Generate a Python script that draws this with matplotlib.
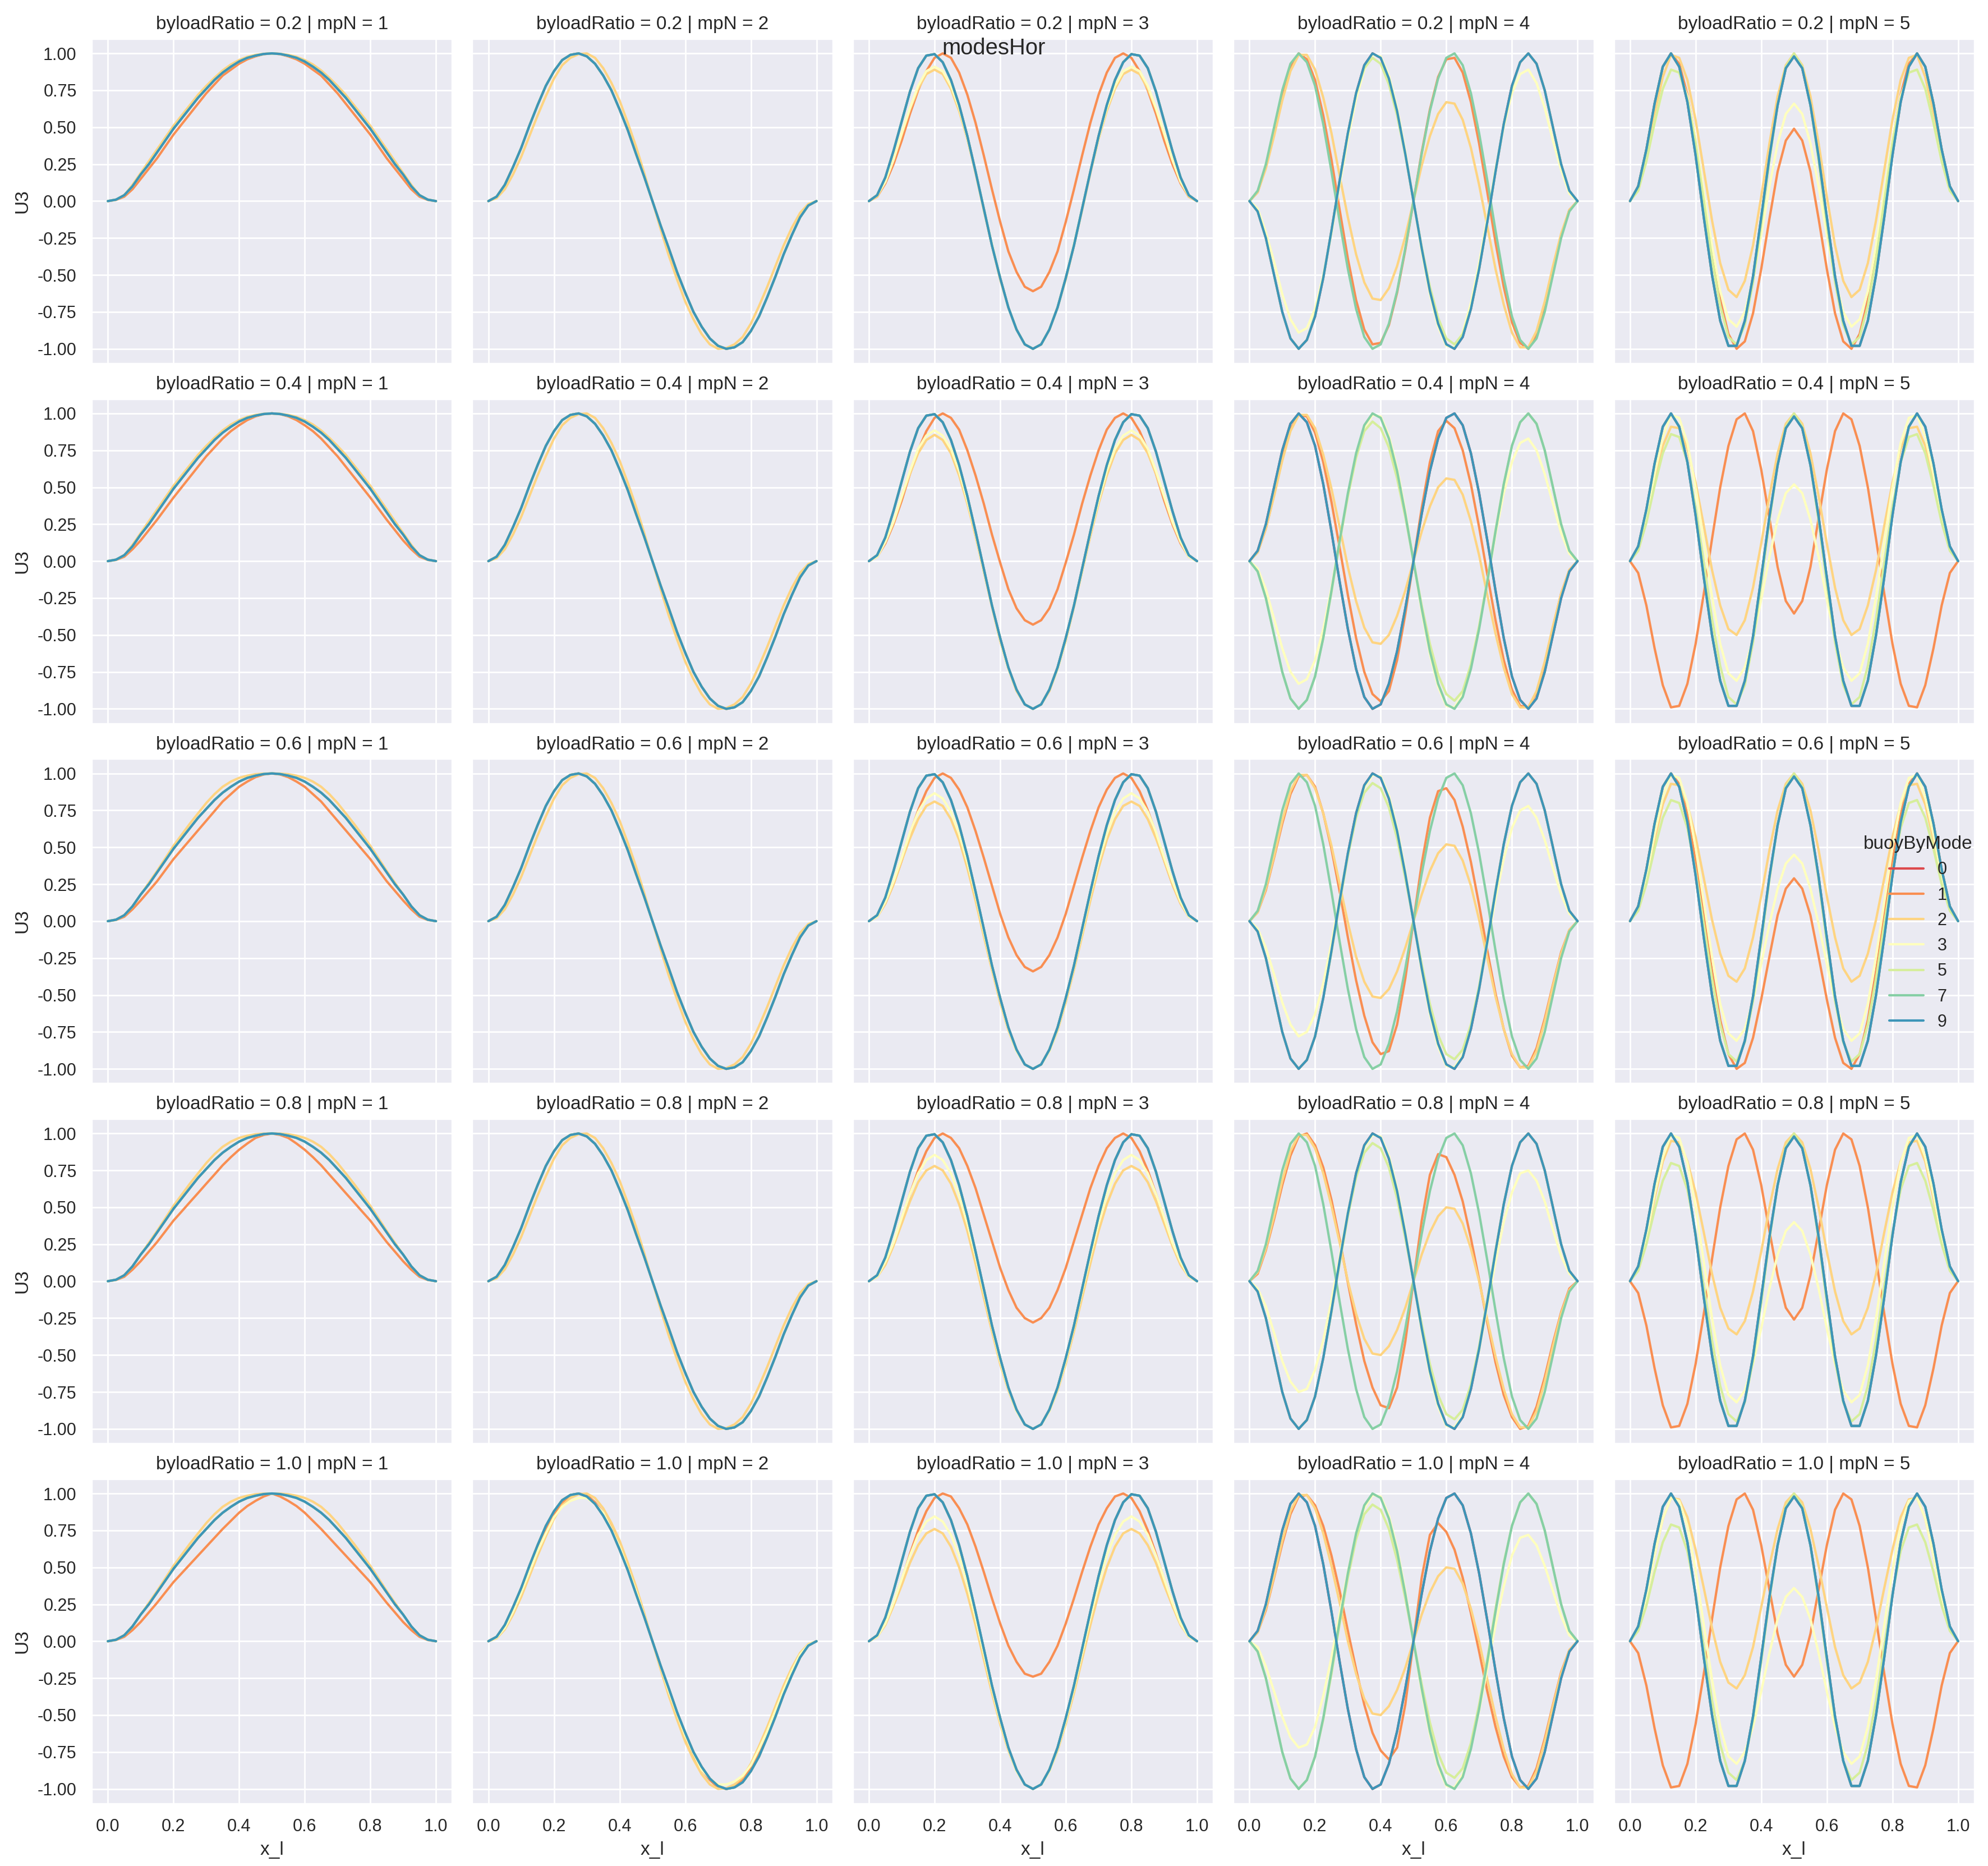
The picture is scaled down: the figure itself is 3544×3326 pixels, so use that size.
import matplotlib
matplotlib.use("Agg")
import matplotlib.pyplot as plt
import seaborn as sns
from matplotlib.lines import Line2D

# ---------------------------------------------------------------------------
# facets and hue levels
# ---------------------------------------------------------------------------
BYLOAD_RATIOS = [0.2, 0.4, 0.6, 0.8, 1.0]
MP_N = [1, 2, 3, 4, 5]
BUOY_BY_MODE = [0, 1, 2, 3, 5, 7, 9]

# sample positions along the pipe (x_l)
X41 = [0, .025, .05, .075, .1, .125, .15, .175, .2, .225, .25, .275, .3, .325, .35, .375, .4, .425, .45, .475,
       .5, .525, .55, .575, .6, .625, .65, .675, .7, .725, .75, .775, .8, .825, .85, .875, .9, .925, .95, .975, 1.0]

# ---------------------------------------------------------------------------
# mpN = 1
# ---------------------------------------------------------------------------
M1_BLUE = [0, .01, .04, .10, .18, .25, .33, .41, .49, .56, .63, .70, .76, .82, .87, .91, .945, .97, .985, .996,
           1, .996, .985, .97, .945, .91, .87, .82, .76, .70, .63, .56, .49, .41, .33, .25, .18, .10, .04, .01, 0]
M1_OR_R1 = [0, .008, .03, .08, .15, .22, .29, .37, .45, .52, .59, .66, .73, .79, .85, .89, .93, .96, .98, .995,
            1, .995, .98, .96, .93, .89, .85, .79, .73, .66, .59, .52, .45, .37, .29, .22, .15, .08, .03, .008, 0]
M1_OR_R2 = [0, .008, .03, .08, .14, .21, .28, .355, .43, .50, .57, .64, .71, .77, .83, .88, .92, .955, .98, .995,
            1, .995, .98, .955, .92, .88, .83, .77, .71, .64, .57, .50, .43, .355, .28, .21, .14, .08, .03, .008, 0]
M1_OR_R3 = [0, .008, .03, .08, .14, .205, .27, .345, .42, .485, .55, .615, .68, .745, .81, .86, .91, .945, .975, .993,
            1, .993, .975, .945, .91, .86, .81, .745, .68, .615, .55, .485, .42, .345, .27, .205, .14, .08, .03, .008, 0]
M1_OR_R4 = [0, .008, .03, .078, .135, .20, .265, .337, .41, .472, .535, .597, .66, .722, .785, .84, .89, .932, .97, .99,
            1, .99, .97, .932, .89, .84, .785, .722, .66, .597, .535, .472, .41, .337, .265, .20, .135, .078, .03, .008, 0]
M1_OR_R5 = [0, .008, .03, .075, .13, .195, .26, .33, .40, .46, .52, .58, .64, .70, .76, .815, .87, .915, .95, .98,
            1, .98, .95, .915, .87, .815, .76, .70, .64, .58, .52, .46, .40, .33, .26, .195, .13, .075, .03, .008, 0]
M1_LO_A = [0, .01, .04, .11, .19, .27, .35, .43, .51, .58, .65, .72, .78, .835, .885, .925, .955, .977, .99, .997,
           1, .997, .99, .977, .955, .925, .885, .835, .78, .72, .65, .58, .51, .43, .35, .27, .19, .11, .04, .01, 0]
M1_LO_B = [0, .01, .04, .10, .18, .26, .34, .425, .51, .585, .66, .73, .80, .86, .91, .945, .97, .985, .995, .999,
           1, .999, .995, .985, .97, .945, .91, .86, .80, .73, .66, .585, .51, .425, .34, .26, .18, .10, .04, .01, 0]

# ---------------------------------------------------------------------------
# mpN = 2
# ---------------------------------------------------------------------------
M2_BLUE = [0, .03, .11, .23, .36, .51, .65, .78, .88, .955, .99, 1, .98, .93, .85, .75, .62, .48, .32, .165,
           0, -.165, -.32, -.48, -.62, -.75, -.85, -.93, -.98, -1, -.99, -.955, -.88, -.78, -.65, -.51, -.36, -.23, -.11, -.03, 0]
M2_LO = [0, .02, .08, .18, .30, .44, .58, .71, .83, .92, .97, .995, 1, .97, .90, .80, .68, .53, .37, .19,
         0, -.19, -.37, -.53, -.68, -.80, -.90, -.97, -1, -.995, -.97, -.92, -.83, -.71, -.58, -.44, -.30, -.18, -.08, -.02, 0]
M2_OR5 = [0, .025, .10, .21, .34, .49, .63, .76, .86, .94, .98, 1, .99, .94, .87, .77, .65, .50, .34, .17,
          0, -.17, -.34, -.50, -.65, -.77, -.87, -.94, -.99, -1, -.98, -.94, -.86, -.76, -.63, -.49, -.34, -.21, -.10, -.025, 0]
M2_Y5 = [0, .025, .09, .20, .33, .47, .61, .73, .84, .91, .95, .97, .97, .93, .87, .76, .64, .49, .34, .17,
         0, -.17, -.34, -.49, -.64, -.76, -.87, -.93, -.97, -.97, -.95, -.91, -.84, -.73, -.61, -.47, -.33, -.20, -.09, -.025, 0]

# ---------------------------------------------------------------------------
# mpN = 3
# ---------------------------------------------------------------------------
M3_BLUE = [0, .04, .16, .34, .54, .74, .90, .985, .995, .94, .82, .65, .44, .20, -.05, -.30, -.52, -.72, -.87, -.97,
           -1, -.97, -.87, -.72, -.52, -.30, -.05, .20, .44, .65, .82, .94, .995, .985, .90, .74, .54, .34, .16, .04, 0]
M3_OR_R1 = [0, .03, .12, .25, .41, .59, .75, .88, .97, 1, .97, .87, .72, .53, .31, .08, -.14, -.34, -.48, -.58,
            -.61, -.58, -.48, -.34, -.14, .08, .31, .53, .72, .87, .97, 1, .97, .88, .75, .59, .41, .25, .12, .03, 0]
M3_OR_R2 = [0, .03, .12, .25, .41, .59, .75, .88, .97, 1, .97, .89, .75, .58, .39, .18, -.01, -.19, -.32, -.40,
            -.43, -.40, -.32, -.19, -.01, .18, .39, .58, .75, .89, .97, 1, .97, .88, .75, .59, .41, .25, .12, .03, 0]
M3_OR_R3 = [0, .03, .12, .25, .41, .59, .75, .88, .97, 1, .97, .89, .77, .61, .43, .24, .05, -.11, -.23, -.31,
            -.34, -.31, -.23, -.11, .05, .24, .43, .61, .77, .89, .97, 1, .97, .88, .75, .59, .41, .25, .12, .03, 0]
M3_OR_R4 = [0, .03, .12, .25, .41, .59, .75, .88, .97, 1, .97, .90, .78, .63, .45, .27, .09, -.06, -.18, -.25,
            -.28, -.25, -.18, -.06, .09, .27, .45, .63, .78, .90, .97, 1, .97, .88, .75, .59, .41, .25, .12, .03, 0]
M3_OR_R5 = [0, .03, .12, .25, .41, .59, .75, .88, .97, 1, .98, .90, .79, .64, .47, .29, .12, -.03, -.14, -.22,
            -.24, -.22, -.14, -.03, .12, .29, .47, .64, .79, .90, .98, 1, .97, .88, .75, .59, .41, .25, .12, .03, 0]
M3_LO_R1 = [0, .03, .13, .28, .45, .62, .76, .86, .89, .86, .76, .61, .42, .19, -.06, -.30, -.53, -.72, -.87, -.97,
            -1, -.97, -.87, -.72, -.53, -.30, -.06, .19, .42, .61, .76, .86, .89, .86, .76, .62, .45, .28, .13, .03, 0]
M3_LO_R2 = [0, .03, .13, .26, .43, .59, .73, .82, .855, .82, .73, .58, .39, .17, -.07, -.31, -.54, -.73, -.88, -.97,
            -1, -.97, -.88, -.73, -.54, -.31, -.07, .17, .39, .58, .73, .82, .855, .82, .73, .59, .43, .26, .13, .03, 0]
M3_LO_R3 = [0, .03, .12, .25, .41, .56, .69, .78, .81, .78, .69, .55, .36, .14, -.10, -.33, -.55, -.74, -.88, -.97,
            -1, -.97, -.88, -.74, -.55, -.33, -.10, .14, .36, .55, .69, .78, .81, .78, .69, .56, .41, .25, .12, .03, 0]
M3_LO_R4 = [0, .03, .11, .24, .39, .54, .67, .75, .78, .75, .66, .52, .34, .12, -.11, -.34, -.56, -.74, -.88, -.97,
            -1, -.97, -.88, -.74, -.56, -.34, -.11, .12, .34, .52, .66, .75, .78, .75, .67, .54, .39, .24, .11, .03, 0]
M3_LO_R5 = [0, .03, .11, .24, .38, .53, .65, .73, .76, .73, .64, .50, .32, .11, -.12, -.35, -.56, -.74, -.88, -.97,
            -1, -.97, -.88, -.74, -.56, -.35, -.12, .11, .32, .50, .64, .73, .76, .73, .65, .53, .38, .24, .11, .03, 0]
M3_Y_R1 = [0, .04, .13, .28, .46, .63, .78, .88, .91, .88, .78, .63, .43, .20, -.05, -.29, -.52, -.72, -.87, -.97,
           -1, -.97, -.87, -.72, -.52, -.29, -.05, .20, .43, .63, .78, .88, .91, .88, .78, .63, .46, .28, .13, .04, 0]
M3_Y_R2 = [0, .03, .13, .27, .44, .61, .76, .85, .885, .85, .76, .61, .41, .19, -.06, -.30, -.53, -.73, -.87, -.97,
           -1, -.97, -.87, -.73, -.53, -.30, -.06, .19, .41, .61, .76, .85, .885, .85, .76, .61, .44, .27, .13, .03, 0]
M3_Y_R3 = [0, .03, .13, .27, .43, .60, .74, .83, .866, .83, .74, .59, .40, .18, -.07, -.31, -.53, -.73, -.88, -.97,
           -1, -.97, -.88, -.73, -.53, -.31, -.07, .18, .40, .59, .74, .83, .866, .83, .74, .60, .43, .27, .13, .03, 0]
M3_Y_R5 = [0, .03, .12, .26, .42, .58, .72, .81, .845, .81, .72, .58, .38, .16, -.08, -.32, -.54, -.73, -.88, -.97,
           -1, -.97, -.88, -.73, -.54, -.32, -.08, .16, .38, .58, .72, .81, .845, .81, .72, .58, .42, .26, .12, .03, 0]

# ---------------------------------------------------------------------------
# mpN = 4
# ---------------------------------------------------------------------------
M4_POS = [0, .07, .25, .50, .75, .93, 1, .94, .78, .52, .20, -.14, -.46, -.73, -.92, -1, -.97, -.83, -.61, -.32,
          0, .32, .61, .83, .97, 1, .92, .73, .46, .14, -.20, -.52, -.78, -.94, -1, -.93, -.75, -.50, -.25, -.07, 0]
M4_NEG = [0, -.07, -.25, -.50, -.75, -.93, -1, -.94, -.78, -.52, -.20, .14, .46, .73, .92, 1, .97, .83, .61, .32,
          0, -.32, -.61, -.83, -.97, -1, -.92, -.73, -.46, -.14, .20, .52, .78, .94, 1, .93, .75, .50, .25, .07, 0]
M4_OR_R1 = [0, .06, .24, .48, .72, .91, 1, .96, .82, .58, .28, -.06, -.39, -.67, -.87, -.97, -.96, -.84, -.62, -.33,
            0, .33, .62, .84, .96, .97, .87, .67, .39, .06, -.28, -.58, -.82, -.96, -1, -.91, -.72, -.48, -.24, -.06, 0]
M4_OR_R2 = [0, .06, .22, .45, .69, .89, .99, .98, .87, .67, .40, .09, -.23, -.52, -.75, -.90, -.95, -.88, -.67, -.36,
            0, .36, .67, .88, .95, .90, .75, .52, .23, -.09, -.40, -.67, -.87, -.98, -.99, -.89, -.69, -.45, -.22, -.06, 0]
M4_OR_R3 = [0, .06, .21, .43, .66, .86, .98, .99, .91, .73, .49, .20, -.11, -.40, -.64, -.82, -.90, -.88, -.70, -.39,
            0, .39, .70, .88, .90, .82, .64, .40, .11, -.20, -.49, -.73, -.91, -.99, -.98, -.86, -.66, -.43, -.21, -.06, 0]
M4_OR_R4 = [0, .05, .21, .42, .65, .85, .98, 1, .92, .77, .55, .28, -.01, -.29, -.54, -.72, -.84, -.86, -.72, -.41,
            0, .41, .72, .86, .84, .72, .54, .29, .01, -.28, -.55, -.77, -.92, -1, -.98, -.85, -.65, -.42, -.21, -.05, 0]
M4_OR_R5 = [0, .06, .21, .43, .66, .86, .98, .99, .92, .78, .58, .34, .07, -.19, -.43, -.62, -.74, -.80, -.72, -.43,
            0, .43, .72, .80, .74, .62, .43, .19, -.07, -.34, -.58, -.78, -.92, -.99, -.98, -.86, -.66, -.43, -.21, -.06, 0]
M4_LO_R1 = [0, .06, .22, .44, .68, .88, .99, .99, .89, .70, .46, .17, -.11, -.36, -.55, -.66, -.67, -.59, -.44, -.24,
            0, .24, .44, .59, .67, .66, .55, .36, .11, -.17, -.46, -.70, -.89, -.99, -.99, -.88, -.68, -.44, -.22, -.06, 0]
M4_LO_R2 = [0, .06, .22, .44, .68, .88, .99, .99, .90, .72, .49, .23, -.04, -.27, -.45, -.55, -.56, -.50, -.37, -.20,
            0, .20, .37, .50, .56, .55, .45, .27, .04, -.23, -.49, -.72, -.90, -.99, -.99, -.88, -.68, -.44, -.22, -.06, 0]
M4_LO_R3 = [0, .06, .22, .44, .68, .88, .99, .99, .90, .73, .51, .25, -.01, -.24, -.41, -.51, -.52, -.46, -.34, -.18,
            0, .18, .34, .46, .52, .51, .41, .24, .01, -.25, -.51, -.73, -.90, -.99, -.99, -.88, -.68, -.44, -.22, -.06, 0]
M4_LO_R4 = [0, .06, .22, .44, .68, .88, .99, .99, .90, .73, .51, .26, 0, -.22, -.39, -.49, -.50, -.44, -.33, -.18,
            0, .18, .33, .44, .50, .49, .39, .22, 0, -.26, -.51, -.73, -.90, -.99, -.99, -.88, -.68, -.44, -.22, -.06, 0]
M4_Y_R1 = [0, -.05, -.21, -.41, -.63, -.80, -.89, -.86, -.73, -.50, -.22, .11, .42, .69, .89, .99, .98, .85, .63, .34,
           0, -.34, -.63, -.85, -.98, -.99, -.89, -.69, -.42, -.11, .22, .50, .73, .86, .89, .80, .63, .41, .21, .05, 0]
M4_Y_R2 = [0, -.05, -.19, -.39, -.59, -.75, -.83, -.80, -.67, -.46, -.18, .14, .44, .70, .90, .99, .98, .85, .63, .34,
           0, -.34, -.63, -.85, -.98, -.99, -.90, -.70, -.44, -.14, .18, .46, .67, .80, .83, .75, .59, .39, .19, .05, 0]
M4_Y_R3 = [0, -.05, -.18, -.36, -.55, -.70, -.78, -.75, -.63, -.42, -.15, .16, .46, .71, .90, .99, .98, .85, .63, .34,
           0, -.34, -.63, -.85, -.98, -.99, -.90, -.71, -.46, -.16, .15, .42, .63, .75, .78, .70, .55, .36, .18, .05, 0]
M4_Y_R4 = [0, -.05, -.17, -.35, -.54, -.68, -.75, -.73, -.60, -.40, -.13, .17, .47, .72, .90, .99, .98, .85, .63, .34,
           0, -.34, -.63, -.85, -.98, -.99, -.90, -.72, -.47, -.17, .13, .40, .60, .73, .75, .68, .54, .35, .17, .05, 0]
M4_Y_R5 = [0, -.04, -.17, -.34, -.51, -.65, -.72, -.70, -.58, -.37, -.11, .19, .47, .72, .90, .99, .98, .85, .63, .34,
           0, -.34, -.63, -.85, -.98, -.99, -.90, -.72, -.47, -.19, .11, .37, .58, .70, .72, .65, .51, .34, .17, .04, 0]
M4_G_R1 = [0, -.07, -.25, -.50, -.75, -.93, -1, -.94, -.77, -.52, -.20, .14, .46, .73, .90, .97, .93, .79, .58, .31,
           0, -.31, -.58, -.79, -.93, -.97, -.90, -.73, -.46, -.14, .20, .52, .77, .94, 1, .93, .75, .50, .25, .07, 0]
M4_G_R2 = [0, -.07, -.25, -.50, -.75, -.93, -1, -.94, -.78, -.52, -.21, .13, .44, .70, .88, .945, .90, .77, .56, .30,
           0, -.30, -.56, -.77, -.90, -.945, -.88, -.70, -.44, -.13, .21, .52, .78, .94, 1, .93, .75, .50, .25, .07, 0]
M4_G_R3 = [0, -.07, -.25, -.50, -.75, -.93, -1, -.94, -.78, -.52, -.21, .12, .44, .70, .87, .935, .90, .77, .56, .29,
           0, -.29, -.56, -.77, -.90, -.935, -.87, -.70, -.44, -.12, .21, .52, .78, .94, 1, .93, .75, .50, .25, .07, 0]
M4_G_R5 = [0, -.07, -.25, -.50, -.75, -.93, -1, -.94, -.78, -.53, -.22, .12, .43, .69, .86, .925, .89, .76, .55, .29,
           0, -.29, -.55, -.76, -.89, -.925, -.86, -.69, -.43, -.12, .22, .53, .78, .94, 1, .93, .75, .50, .25, .07, 0]

# ---------------------------------------------------------------------------
# mpN = 5
# ---------------------------------------------------------------------------
M5_BLUE = [0, .10, .35, .66, .91, 1, .91, .67, .31, -.11, -.50, -.81, -.98, -.98, -.81, -.51, -.11, .30, .65, .90,
           .98, .90, .65, .30, -.11, -.51, -.81, -.98, -.98, -.81, -.50, -.11, .31, .67, .91, 1, .91, .66, .35, .10, 0]
M5_OR_R1 = [0, .10, .35, .66, .91, 1, .93, .72, .41, .04, -.34, -.67, -.90, -1, -.95, -.76, -.46, -.12, .20, .41,
            .49, .41, .20, -.12, -.46, -.76, -.95, -1, -.90, -.67, -.34, .04, .41, .72, .93, 1, .91, .66, .35, .10, 0]
M5_OR_R2 = [0, -.08, -.30, -.59, -.84, -.99, -.98, -.83, -.56, -.22, .15, .50, .78, .96, 1, .88, .62, .29, -.04, -.27,
            -.355, -.27, -.04, .29, .62, .88, 1, .96, .78, .50, .15, -.22, -.56, -.83, -.98, -.99, -.84, -.59, -.30, -.08, 0]
M5_OR_R3 = [0, .10, .35, .66, .91, 1, .93, .72, .41, .04, -.34, -.67, -.90, -1, -.96, -.79, -.53, -.24, .04, .22,
            .29, .22, .04, -.24, -.53, -.79, -.96, -1, -.90, -.67, -.34, .04, .41, .72, .93, 1, .91, .66, .35, .10, 0]
M5_OR_R4 = [0, -.08, -.30, -.59, -.84, -.99, -.98, -.83, -.56, -.22, .15, .50, .78, .96, 1, .89, .65, .34, .04, -.18,
            -.26, -.18, .04, .34, .65, .89, 1, .96, .78, .50, .15, -.22, -.56, -.83, -.98, -.99, -.84, -.59, -.30, -.08, 0]
M5_OR_R5 = [0, -.08, -.30, -.59, -.84, -.99, -.98, -.83, -.56, -.22, .15, .50, .78, .96, 1, .89, .65, .35, .05, -.16,
            -.24, -.16, .05, .35, .65, .89, 1, .96, .78, .50, .15, -.22, -.56, -.83, -.98, -.99, -.84, -.59, -.30, -.08, 0]
M5_LO_R1 = [0, .08, .30, .59, .84, .99, .97, .82, .55, .21, -.13, -.42, -.60, -.65, -.54, -.30, .03, .39, .71, .92,
            1, .92, .71, .39, .03, -.30, -.54, -.65, -.60, -.42, -.13, .21, .55, .82, .97, .99, .84, .59, .30, .08, 0]
M5_LO_R2 = [0, .08, .28, .54, .78, .91, .90, .76, .53, .24, -.06, -.30, -.46, -.50, -.40, -.18, .12, .44, .73, .93,
            1, .93, .73, .44, .12, -.18, -.40, -.50, -.46, -.30, -.06, .24, .53, .76, .90, .91, .78, .54, .28, .08, 0]
M5_LO_R3 = [0, .08, .28, .55, .79, .93, .92, .79, .57, .29, .01, -.22, -.37, -.41, -.32, -.11, .17, .48, .75, .93,
            1, .93, .75, .48, .17, -.11, -.32, -.41, -.37, -.22, .01, .29, .57, .79, .92, .93, .79, .55, .28, .08, 0]
M5_LO_R4 = [0, .08, .29, .56, .81, .95, .94, .81, .60, .33, .05, -.18, -.32, -.36, -.27, -.07, .20, .50, .76, .94,
            1, .94, .76, .50, .20, -.07, -.27, -.36, -.32, -.18, .05, .33, .60, .81, .94, .95, .81, .56, .29, .08, 0]
M5_LO_R5 = [0, .08, .30, .58, .83, .97, .96, .84, .62, .36, .09, -.14, -.28, -.32, -.23, -.04, .23, .51, .76, .94,
            1, .94, .76, .51, .23, -.04, -.23, -.32, -.28, -.14, .09, .36, .62, .84, .96, .97, .83, .58, .30, .08, 0]
M5_Y_R1 = [0, .07, .27, .53, .76, .89, .87, .71, .42, .06, -.30, -.61, -.80, -.85, -.75, -.53, -.23, .10, .39, .59,
           .66, .59, .39, .10, -.23, -.53, -.75, -.85, -.80, -.61, -.30, .06, .42, .71, .87, .89, .76, .53, .27, .07, 0]
M5_Y_R2 = [0, .08, .30, .59, .84, .99, .97, .80, .50, .13, -.24, -.56, -.76, -.81, -.72, -.53, -.26, .03, .28, .46,
           .52, .46, .28, .03, -.26, -.53, -.72, -.81, -.76, -.56, -.24, .13, .50, .80, .97, .99, .84, .59, .30, .08, 0]
M5_Y_R3 = [0, .08, .30, .59, .84, .99, .97, .80, .50, .13, -.24, -.56, -.76, -.81, -.73, -.54, -.29, -.02, .22, .39,
           .45, .39, .22, -.02, -.29, -.54, -.73, -.81, -.76, -.56, -.24, .13, .50, .80, .97, .99, .84, .59, .30, .08, 0]
M5_Y_R4 = [0, .08, .30, .59, .84, .99, .97, .80, .50, .13, -.25, -.57, -.77, -.82, -.74, -.56, -.32, -.05, .18, .34,
           .40, .34, .18, -.05, -.32, -.56, -.74, -.82, -.77, -.57, -.25, .13, .50, .80, .97, .99, .84, .59, .30, .08, 0]
M5_Y_R5 = [0, .08, .30, .58, .83, .97, .95, .78, .48, .11, -.26, -.58, -.78, -.83, -.75, -.58, -.34, -.08, .15, .30,
           .36, .30, .15, -.08, -.34, -.58, -.75, -.83, -.78, -.58, -.26, .11, .48, .78, .95, .97, .83, .58, .30, .08, 0]
M5_G_R1 = [0, .07, .27, .53, .76, .89, .87, .69, .39, 0, -.39, -.71, -.92, -.97, -.84, -.55, -.16, .27, .65, .91,
           1, .91, .65, .27, -.16, -.55, -.84, -.97, -.92, -.71, -.39, 0, .39, .69, .87, .89, .76, .53, .27, .07, 0]
M5_G_R2 = [0, .07, .26, .51, .73, .86, .84, .67, .37, -.01, -.39, -.71, -.92, -.97, -.84, -.55, -.16, .27, .65, .91,
           1, .91, .65, .27, -.16, -.55, -.84, -.97, -.92, -.71, -.39, -.01, .37, .67, .84, .86, .73, .51, .26, .07, 0]
M5_G_R3 = [0, .07, .25, .49, .70, .82, .80, .63, .34, -.02, -.39, -.70, -.90, -.95, -.82, -.54, -.15, .28, .65, .91,
           1, .91, .65, .28, -.15, -.54, -.82, -.95, -.90, -.70, -.39, -.02, .34, .63, .80, .82, .70, .49, .25, .07, 0]
M5_G_R4 = [0, .07, .25, .48, .68, .80, .78, .62, .33, -.03, -.40, -.71, -.90, -.95, -.82, -.54, -.15, .28, .65, .91,
           1, .91, .65, .28, -.15, -.54, -.82, -.95, -.90, -.71, -.40, -.03, .33, .62, .78, .80, .68, .48, .25, .07, 0]
M5_G_R5 = [0, .07, .24, .47, .67, .79, .77, .61, .32, -.03, -.40, -.70, -.89, -.94, -.81, -.53, -.14, .28, .65, .91,
           1, .91, .65, .28, -.14, -.53, -.81, -.94, -.89, -.70, -.40, -.03, .32, .61, .77, .79, .67, .47, .24, .07, 0]

# per-row picks (rows follow BYLOAD_RATIOS)
M1_OR = [M1_OR_R1, M1_OR_R2, M1_OR_R3, M1_OR_R4, M1_OR_R5]
M1_LO = [M1_LO_A, M1_LO_A, M1_LO_B, M1_LO_B, M1_LO_B]
M2_OR = [M2_BLUE, M2_BLUE, M2_BLUE, M2_BLUE, M2_OR5]
M2_Y = [M2_BLUE, M2_BLUE, M2_BLUE, M2_BLUE, M2_Y5]
M3_OR = [M3_OR_R1, M3_OR_R2, M3_OR_R3, M3_OR_R4, M3_OR_R5]
M3_LO = [M3_LO_R1, M3_LO_R2, M3_LO_R3, M3_LO_R4, M3_LO_R5]
M3_Y = [M3_Y_R1, M3_Y_R2, M3_Y_R3, M3_LO_R2, M3_Y_R5]
M4_BLUE = [M4_NEG, M4_POS, M4_NEG, M4_NEG, M4_POS]
M4_GREEN = [M4_POS, M4_NEG, M4_POS, M4_POS, M4_NEG]
M4_OR = [M4_OR_R1, M4_OR_R2, M4_OR_R3, M4_OR_R4, M4_OR_R5]
M4_LO = [M4_LO_R1, M4_LO_R2, M4_LO_R3, M4_LO_R4, M4_LO_R4]
M4_Y = [M4_Y_R1, M4_Y_R2, M4_Y_R3, M4_Y_R4, M4_Y_R5]
M4_G = [M4_G_R1, M4_G_R2, M4_G_R3, M4_G_R3, M4_G_R5]
M5_OR = [M5_OR_R1, M5_OR_R2, M5_OR_R3, M5_OR_R4, M5_OR_R5]
M5_LO = [M5_LO_R1, M5_LO_R2, M5_LO_R3, M5_LO_R4, M5_LO_R5]
M5_Y = [M5_Y_R1, M5_Y_R2, M5_Y_R3, M5_Y_R4, M5_Y_R5]
M5_G = [M5_G_R1, M5_G_R2, M5_G_R3, M5_G_R4, M5_G_R5]


def panel_curves(r, mode):
    """Return {buoyByMode: U3 samples} for one facet."""
    if mode == 1:
        b = M1_BLUE
        return {0: b, 1: M1_OR[r], 2: M1_LO[r], 3: b, 5: b, 7: b, 9: b}
    if mode == 2:
        b = M2_BLUE
        return {0: b, 1: M2_OR[r], 2: M2_LO, 3: M2_Y[r], 5: b, 7: b, 9: b}
    if mode == 3:
        b = M3_BLUE
        return {0: b, 1: M3_OR[r], 2: M3_LO[r], 3: M3_Y[r], 5: b, 7: b, 9: b}
    if mode == 4:
        return {0: M4_BLUE[r], 1: M4_OR[r], 2: M4_LO[r], 3: M4_Y[r],
                5: M4_G[r], 7: M4_GREEN[r], 9: M4_BLUE[r]}
    b = M5_BLUE
    return {0: b, 1: M5_OR[r], 2: M5_LO[r], 3: M5_Y[r], 5: M5_G[r], 7: b, 9: b}


# ---------------------------------------------------------------------------
# plotting
# ---------------------------------------------------------------------------
sns.set_theme(style="darkgrid", context="notebook")
plt.rcParams["font.family"] = ["Liberation Sans", "DejaVu Sans"]

colors = sns.color_palette("Spectral", len(BUOY_BY_MODE))
hue_color = dict(zip(BUOY_BY_MODE, colors))

Y_TICKS = [-1, -0.75, -0.5, -0.25, 0, 0.25, 0.5, 0.75, 1]
X_TICKS = [0, 0.2, 0.4, 0.6, 0.8, 1.0]

fig, axes = plt.subplots(5, 5, figsize=(17.72, 16.63), sharex=True, sharey=True)
fig.subplots_adjust(left=0.046, right=0.9932, bottom=0.0334, top=0.9793,
                    wspace=0.0544, hspace=0.108)

for r, ratio in enumerate(BYLOAD_RATIOS):
    for c, mode in enumerate(MP_N):
        ax = axes[r, c]
        curves = panel_curves(r, mode)
        for b in BUOY_BY_MODE:
            ax.plot(X41, curves[b], color=hue_color[b], lw=1.5)
        ax.set_title(f"byloadRatio = {ratio} | mpN = {mode}")
        ax.set_yticks(Y_TICKS)
        ax.set_yticklabels([f"{v:.2f}" for v in Y_TICKS])
        ax.set_xticks(X_TICKS)
        ax.set_xticklabels([f"{v:.1f}" for v in X_TICKS])
        if c == 0:
            ax.set_ylabel("U3")
        if r == len(BYLOAD_RATIOS) - 1:
            ax.set_xlabel("x_l")

for ax in axes.flat:
    ax.label_outer()

fig.suptitle("modesHor")

handles = [Line2D([], [], color=hue_color[b], lw=1.5) for b in BUOY_BY_MODE]
fig.legend(handles, [str(b) for b in BUOY_BY_MODE], title="buoyByMode",
           loc="center right", bbox_to_anchor=(1.0, 0.5), frameon=False)

fig.savefig("out.png", dpi=200)
